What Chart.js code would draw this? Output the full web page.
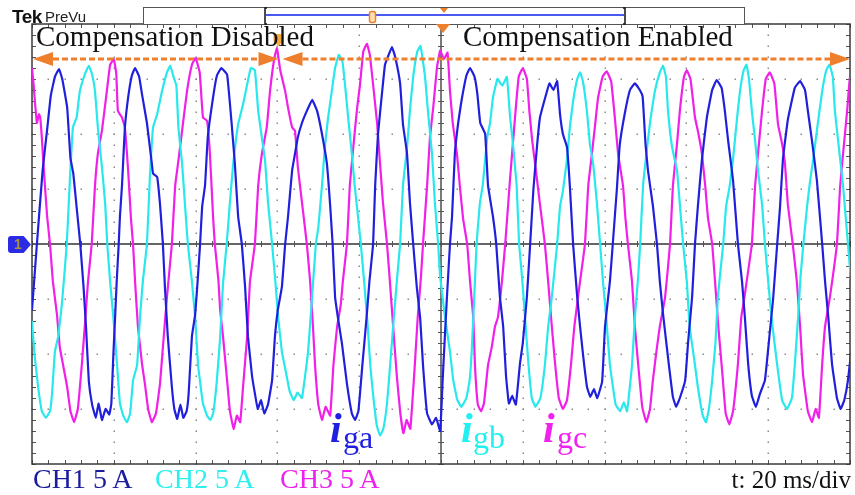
<!DOCTYPE html>
<html>
<head>
<meta charset="utf-8">
<script src="https://cdn.jsdelivr.net/npm/chart.js@4.4.1/dist/chart.umd.min.js"></script>
<style>
  html, body { margin: 0; padding: 0; background: #fff; }
  #wrap { position: relative; width: 855px; height: 495px; overflow: hidden; }
  canvas { position: absolute; left: 0; top: 0; }
  .txt { position: absolute; white-space: nowrap; line-height: 1; font-family: 'Liberation Serif', 'Times New Roman', serif; }
  .sans { font-family: 'Liberation Sans', Arial, sans-serif; }
  .ii { font-style: italic; font-weight: bold; font-size: 42px; }
  .sub { font-size: 32px; }
  #ch1mark { position: absolute; left: 8px; top: 236px; width: 23px; height: 17px; background: #2b2be6;
    clip-path: polygon(0 0, 68% 0, 100% 50%, 68% 100%, 0 100%); border-radius: 3px 0 0 3px;
    color: #a8923a; font: bold 14px 'Liberation Sans', Arial, sans-serif; line-height: 17px; text-indent: 6px; }
</style>
</head>
<body>
<div id="wrap">
  <canvas id="scope" width="855" height="495"></canvas>
  <div class="txt sans" style="left:12px; top:7px; font-size:19px; font-weight:bold; letter-spacing:-0.5px; color:#111;">Tek</div>
  <div class="txt sans" style="left:45px; top:9px; font-size:15px; color:#222;">PreVu</div>
  <div class="txt" style="left:36px; top:22px; font-size:29px; color:#111;">Compensation Disabled</div>
  <div class="txt" style="left:463px; top:22px; font-size:29px; color:#111;">Compensation Enabled</div>
  <div class="txt ii" style="left:330px; top:407px; color:#1f1fe0;">i</div>
  <div class="txt sub" style="left:343px; top:421px; color:#1f1fe0;">ga</div>
  <div class="txt ii" style="left:461px; top:407px; color:#22f0f0;">i</div>
  <div class="txt sub" style="left:473px; top:421px; color:#22f0f0;">gb</div>
  <div class="txt ii" style="left:543px; top:407px; color:#f022f0;">i</div>
  <div class="txt sub" style="left:557px; top:421px; color:#f022f0;">gc</div>
  <div class="txt" style="left:33px; top:465px; font-size:28px; color:#1b1b9e;">CH1 5 A</div>
  <div class="txt" style="left:155px; top:465px; font-size:28px; color:#2eefef;">CH2 5 A</div>
  <div class="txt" style="left:280px; top:465px; font-size:28px; color:#ee22ee;">CH3 5 A</div>
  <div class="txt" style="right:4px; top:467px; font-size:25px; color:#111;">t: 20 ms/div</div>
  <div id="ch1mark">1</div>
</div>
<script>
// time in ms, current in A (20 ms/div, 5 A/div)
const timeRange = [0, 200];
const ampRange = [-20, 20];
const msPerDiv = 20;
const ampPerDiv = 5;
const switchMs = 61; // compensation switched on

// [t, i] pairs per phase
const iga = [
  [0,-6],[1.2,0],[2.6,6.7],[3.7,10.4],[4.6,13.5],[5.6,15.2],[6.6,15.9],[7.4,15],[8.6,12.4],[9.4,7.8],[10.1,6.4],[11,3],[11.8,0],
  [12.6,-3.9],[13.2,-7.5],[13.9,-12.5],[14.7,-14.6],[15.6,-15.8],[16.3,-14.5],[17.1,-16],[18,-15],[18.9,-15.5],[19.4,-14.5],[19.9,-10],[20.3,-6.8],[20.7,-3.5],[21.2,0],
  [21.5,2.5],[22,5.3],[22.7,10.5],[23.5,13.3],[24.4,15.3],[25.2,16],[26.2,15.2],[26.9,13.6],[28.1,11],[29.3,7.3],[29.6,6.4],[30.6,6.1],[31.3,3.6],[32,0],
  [32.5,-3.9],[33.2,-8.4],[34.2,-13],[34.8,-15],[35.5,-15.9],[36.3,-14.6],[37,-15.8],[37.8,-15.2],[38.3,-13.6],[39.1,-8.4],[39.9,-6.4],[40.6,-2.8],[41.1,0],
  [41.6,3.4],[42.3,5.3],[43,9.8],[44.3,13.4],[45.2,15.3],[46.3,16],[47.7,15.4],[48.8,11],[49.6,7.3],[50.4,2.5],[51.3,0],
  [52.1,-3.9],[52.8,-8.4],[53.8,-12],[54.5,-13.6],[55.2,-15],[56,-14.2],[56.8,-15.4],[57.7,-14.6],[58.7,-12.4],[59.4,-8.4],[60.1,-6],[61.1,-3.9],[61.9,0],
  [62.6,2.5],[63.6,6.7],[64.3,8.2],[65,9.7],[66,11],[67.2,12.1],[68.5,13.1],[69.7,12.1],[70.9,10],[72.1,7.3],[72.9,3.5],[73.5,0],
  [74.1,-4.8],[74.8,-6.7],[75.8,-9.1],[77,-12.7],[78.2,-15.4],[79,-16],[79.8,-15.2],[80.8,-10.9],[81.8,-6.7],[82.5,-3.4],[83.4,0],
  [83.9,5.3],[84.6,10],[85.6,13.8],[86.3,16.3],[87,17],[88,17.9],[88.8,17],[90,14.6],[90.7,10.9],[91.7,8.2],[92.4,3.8],[93.2,0],
  [94.1,-4],[94.9,-6.7],[95.6,-11],[96.6,-15.4],[97.8,-16.4],[98.8,-15.8],[99.8,-17],[100.4,-12.4],[101,-8],[101.5,-4.5],[102.2,0],
  [102.7,2.5],[103.4,8.3],[104.2,11],[105,13],[106.2,15.3],[107.1,16],[108.2,15.2],[108.9,13.6],[109.6,11],[110.8,10],[111.5,5.3],[112.7,2.5],[113.5,0],
  [114.4,-4.8],[115.2,-7.5],[115.9,-12],[116.6,-14.5],[117.4,-13.8],[118.3,-14.6],[119.3,-10.9],[120,-9],[121,-4.8],[121.8,0],
  [122.6,5],[123.5,9],[124.2,11.5],[125.4,13.2],[126.5,14.6],[127.5,14],[128.4,14.8],[129.1,11.8],[129.8,10],[130.8,8.8],[131.5,5.3],[132.3,0],
  [133.3,-4.8],[134,-7.5],[134.8,-10.3],[135.7,-13],[136.5,-13.9],[137.4,-13.2],[138.2,-14],[139.4,-12.5],[140.1,-7.5],[141.3,-3.4],[142,0],
  [143,5],[143.7,9],[144.9,11.8],[146.2,14],[147.4,14.6],[148.6,14],[149.3,13.4],[150,9.1],[150.6,6.7],[151.8,3.5],[152.8,0],
  [153.5,-3.4],[154.3,-6.4],[155.5,-10.3],[156.7,-13.9],[157.5,-14.8],[158.4,-14],[159.7,-12.4],[160.4,-9],[161.4,-4.8],[162.1,0],
  [162.8,3.4],[163.8,7.7],[165,11.5],[166.3,14],[167.4,14.9],[168.6,14.2],[169.4,12.1],[170.2,9.4],[171.4,5.8],[172.6,0],
  [173.6,-3.4],[174.3,-6.7],[175.1,-10.9],[176,-13.8],[177,-14.8],[178,-13.6],[179.2,-12.4],[180.4,-8],[181.2,-5],[182.2,0],
  [182.9,3.4],[183.6,7.7],[184.8,11.3],[186.5,14.2],[187.8,14.8],[189,14],[189.7,12.1],[190.7,9.4],[191.9,5.8],[193.2,0],
  [193.9,-3.4],[194.7,-6.7],[195.6,-10.9],[196.8,-14],[197.7,-15],[198.6,-14.2],[199.5,-12.4],[200.7,-8.4]
];

const igb = [
  [0,-7],[0.6,-10],[1.5,-13],[2.4,-15.2],[3.4,-15.8],[4.4,-15.2],[4.9,-13.6],[5.6,-9.8],[6.4,-8.4],[7.3,-5.5],[8.5,0],
  [9.3,6.1],[10,10.6],[10.9,11.5],[11.7,13.9],[13,15.5],[13.9,16.2],[14.7,15.4],[15.4,13.9],[16.1,10.6],[17.1,7],[17.9,3.6],[18.4,0],
  [19.1,-3.4],[19.9,-6.7],[20.8,-11],[21.5,-14.5],[22.3,-15.6],[23.2,-16.2],[24,-15.4],[24.7,-12.4],[25.7,-11],[26.4,-6.7],[27.1,-3.4],[28.1,0],
  [28.8,5.9],[29.6,10.6],[30.6,11.8],[31.8,13.9],[33,15.6],[33.8,16.2],[34.6,15.2],[35.3,14.4],[35.8,10.6],[36.7,7.3],[37.4,3.6],[38.1,0],
  [39.1,-3.4],[39.9,-6.7],[40.6,-11],[41.8,-14.5],[42.8,-15.6],[43.6,-16],[44.3,-15.4],[45.2,-12.4],[46,-8.5],[46.7,-3.6],[47.6,0],
  [48.4,3.8],[49.2,7.3],[50.4,10.9],[51.6,12.7],[52.6,14.5],[53.5,16],[54.5,15.8],[55.3,12.1],[56.2,9.7],[57,7.5],[57.7,3.8],[58.7,0],
  [59.5,-3.4],[60.2,-6.7],[61.1,-9.8],[61.9,-11.3],[63,-13.4],[64,-14.2],[64.9,-13.5],[66,-14],[67.5,-9.8],[68.4,-5.2],[69.4,0],
  [70,1.5],[70.9,5.3],[71.6,8.8],[72.4,11.5],[73.3,13.9],[74.1,16],[75,17.2],[75.9,16.6],[76.5,14.6],[77.3,11.5],[78.2,8.2],[78.9,5.3],[79.7,2.5],[80.4,0],
  [81.2,-3.4],[82.1,-7.5],[82.7,-11],[83.4,-13.7],[84.3,-16.5],[85.1,-17.4],[85.9,-16.8],[86.8,-14.5],[87.5,-11.3],[88.3,-7.5],[89.2,-3.4],[90,0],
  [90.7,5.3],[91.7,8.8],[92.4,12.1],[93.2,15.2],[94.2,17.5],[95,18],[96.1,15.2],[96.8,12.1],[97.8,8.2],[98.5,3.8],[99.3,0],
  [99.8,-3],[101,-6.7],[102.2,-9.8],[103,-12.4],[104,-14.2],[105,-14.8],[106.2,-14],[107,-12.4],[107.5,-9.8],[108.3,-3.4],[108.7,0],
  [109.5,3.7],[110.2,5.3],[111.3,9.7],[112,11],[112.7,13.3],[113.8,15],[115,14.4],[116.1,15.2],[116.9,11.5],[117.6,9.1],[118.5,5.3],[119.1,0],
  [119.9,-3.4],[120.7,-7.5],[121.4,-11],[122.2,-14],[123.1,-14.8],[124.3,-14],[125.4,-11],[126.2,-7.5],[127.1,-4.8],[128.4,0],
  [129.1,3.4],[129.8,4.8],[130.8,7.7],[131.5,10.6],[132.3,13],[133.3,15],[134,15.6],[134.7,14.8],[135.7,12],[136.4,9.1],[137.2,7.3],[138.1,3.8],[138.9,0],
  [139.6,-3.4],[140.4,-6.7],[141.3,-11],[142.7,-14.6],[143.8,-15.2],[144.7,-14.4],[145.5,-15.2],[146.7,-11],[147.4,-6.7],[148.2,-3],[148.7,0],
  [149.4,5.3],[150.4,8.8],[151.1,11],[152.3,13.9],[153.5,15.6],[154.3,16.2],[155,15.2],[155.5,12.1],[156.5,8.8],[157.7,6.7],[158.4,3.6],[159.2,0],
  [160.1,-3.4],[160.8,-7.5],[162.1,-11],[162.8,-13],[164,-15.6],[164.8,-16.2],[165.5,-15],[166.3,-12.4],[167.1,-9],[167.7,-4.8],[169,0],
  [169.7,3.4],[170.6,5.3],[171.4,7.7],[172.4,11.5],[173.1,13.9],[174,15.8],[174.7,16.3],[175.3,15],[176,12.1],[176.8,9.4],[177.5,6.7],[178.5,3.6],[179.2,0],
  [180,-3.4],[180.9,-7],[182.2,-11],[183.4,-14.2],[184.6,-15],[185.8,-14],[186.5,-11],[187.3,-6.7],[187.9,-3],[188.6,0],
  [189.5,3.4],[190.2,5.6],[191,7.7],[192,10.6],[193.2,13.9],[194.2,15.8],[195,16.3],[195.8,15.2],[196.3,12.1],[197.6,7.7],[198.3,5.3],[199.5,0],[200.7,-5.4]
];

const igc = [
  [0,16],[0.4,14.5],[0.7,13],[1.2,11],[1.7,11.8],[2,11.5],[2.4,9.7],[2.9,6.7],[3.7,2.5],[4.4,0],
  [5.1,-3.4],[6.1,-6.4],[6.8,-9.4],[7.6,-11],[8.6,-13],[9.4,-15.2],[10.3,-16.2],[11.2,-15],[12.2,-10.9],[12.9,-7.5],[13.7,-3.4],[14.6,0],
  [15.4,5.3],[16.1,8.2],[17.1,10.3],[18.3,13.9],[19.1,16.3],[20,16.8],[20.6,15.5],[21,12.1],[22,11.5],[22.7,10.6],[23.5,6.7],[24.2,2.3],[24.7,0],
  [25.2,-3.4],[25.9,-7.5],[26.9,-10.9],[27.6,-12.7],[28.4,-15],[29.3,-16.2],[30.3,-15.4],[31.3,-12.7],[32,-9.4],[33,-4.8],[34.2,0],
  [35,5.3],[35.7,7.3],[36.7,10.3],[37.9,13.9],[39.1,16.3],[40,16.9],[41,15.6],[41.8,11.5],[42.8,11.2],[43.5,8.2],[44.3,2.3],[44.7,0],
  [45.6,-3.4],[46,-6],[46.7,-8.4],[47.7,-12.4],[48.4,-15.2],[49.3,-16.8],[50.1,-15.6],[50.9,-16.2],[51.6,-13],[52.6,-8.4],[53.3,-3.4],[54.5,0],
  [55.3,5.3],[56.2,8.2],[57.4,10.6],[58.2,13.9],[59.2,16.8],[59.9,17.8],[60.7,15.8],[61.9,13.9],[62.6,12.4],[63.6,10.6],[64.3,10.3],[65,7],[66,3.8],[67.2,0],
  [68,-3.4],[68.7,-7.5],[69.2,-11],[70,-14.6],[70.9,-16],[71.8,-14.8],[72.9,-15.6],[73.7,-11],[74.6,-7.5],[75.5,-5.5],[76,-3.4],[77,0],
  [77.7,5.3],[78.4,8.2],[79.5,12.4],[80.2,14.5],[81,17.5],[81.9,18.2],[82.6,17.2],[83.4,14.5],[84.4,10.9],[85.1,7.3],[85.8,3.8],[86.8,0],
  [87.5,-3.4],[88.3,-7.5],[89.2,-12],[90,-15.2],[90.8,-17.2],[91.6,-16],[92.5,-16.8],[93.6,-11],[94.3,-6.7],[95.1,-3],[95.6,0],
  [96.6,5.3],[97.3,9.7],[98.1,12.4],[99,16],[99.8,17.6],[100.7,16.8],[101.6,17.4],[102.2,13.9],[102.9,10.9],[103.9,8.2],[104.6,5.3],[105.4,2.3],[106.4,0],
  [107.1,-3.4],[107.9,-6.7],[108.3,-11],[109,-14.6],[109.8,-15.2],[110.5,-14.5],[111.5,-11],[112.4,-9.4],[113.2,-7.5],[113.9,-6.7],[114.9,-3.4],[115.7,0],
  [116.9,6],[117.7,9.7],[118.3,12.4],[119,15.2],[120,16],[121,15],[121.6,12.1],[122.3,9.4],[123.2,6.7],[124.2,3.6],[125.4,0],
  [126.2,-3.4],[127.1,-7.5],[127.9,-10.9],[128.8,-14],[129.8,-15],[130.8,-14.2],[131.8,-10.9],[132.6,-7.5],[134,-3.4],[135.2,0],
  [136,5.3],[136.9,8.2],[137.7,10.9],[138.4,13.3],[139.5,15.2],[140.5,15.7],[141.6,14.8],[142.5,11.5],[143.3,8.2],[144.5,5.3],[145.1,2.3],[145.7,0],
  [146.7,-3.4],[147.4,-7.5],[148.2,-10.9],[149.2,-14.8],[150.2,-16.2],[151.1,-15],[151.8,-12.4],[152.8,-9.4],[153.5,-7.5],[154.8,-4.8],[156,0],
  [156.7,5.3],[157.7,9.1],[158.4,12.1],[159.4,15.2],[160.1,15.8],[161,15],[162.1,11.5],[162.8,10.3],[163.8,8.2],[164.6,5.3],[165.3,2.3],[166.3,0],
  [167,-3.4],[167.8,-7.5],[168.8,-11.8],[169.6,-15.4],[170.5,-16.4],[171.4,-15.2],[172.6,-10.9],[173.4,-6.7],[174.2,-4.8],[176,0],
  [176.8,5.3],[177.5,8.2],[178.5,12.1],[179.4,15],[180.4,15.6],[181.5,14.6],[182.4,10.9],[183.4,9.1],[184.1,7.3],[184.8,3.6],[186,0],
  [187,-3.4],[187.8,-7.5],[188.5,-11.8],[189.7,-15.2],[190.7,-16.2],[191.6,-15],[192.4,-15.8],[193.2,-10.9],[193.9,-7.5],[195.1,-4.8],[196.8,0],
  [197.6,5.3],[198.3,8.2],[199.3,12.1],[200,15.2],[200.7,14.5]
];

const toPoints = (pairs) => pairs.map(([t, i]) => ({ x: t, y: i }));

const ORANGE = '#ee7f2d';

function arrowHead(ctx, tipX, y, dir) {
  ctx.beginPath();
  ctx.moveTo(tipX, y);
  ctx.lineTo(tipX - dir * 20, y - 7);
  ctx.lineTo(tipX - dir * 20, y + 7);
  ctx.closePath();
  ctx.fill();
}

// scope screen: graticule, centre cross, markers, record bar, arrows
const scopeScreen = {
  id: 'scopeScreen',
  beforeDatasetsDraw(chart) {
    const { ctx, chartArea: a, scales: { x, y } } = chart;
    ctx.save();
    // dotted graticule
    ctx.fillStyle = '#8c8c8c';
    for (let t = timeRange[0] + msPerDiv; t < timeRange[1]; t += msPerDiv) {
      if (t === 100) continue;
      for (let v = ampRange[0]; v <= ampRange[1]; v += 1) {
        ctx.fillRect(Math.round(x.getPixelForValue(t)) - 0.5, Math.round(y.getPixelForValue(v)) - 0.5, 1.5, 1.5);
      }
    }
    for (let v = ampRange[0] + ampPerDiv; v < ampRange[1]; v += ampPerDiv) {
      if (v === 0) continue;
      for (let t = timeRange[0]; t <= timeRange[1]; t += 4) {
        ctx.fillRect(Math.round(x.getPixelForValue(t)) - 0.5, Math.round(y.getPixelForValue(v)) - 0.5, 1.5, 1.5);
      }
    }
    // centre cross
    const x0 = x.getPixelForValue(100), y0 = y.getPixelForValue(0);
    ctx.strokeStyle = '#333';
    ctx.lineWidth = 1.3;
    ctx.beginPath();
    ctx.moveTo(a.left, y0); ctx.lineTo(a.right, y0);
    ctx.moveTo(x0, a.top); ctx.lineTo(x0, a.bottom);
    ctx.stroke();
    ctx.lineWidth = 1;
    ctx.strokeStyle = '#555';
    ctx.beginPath();
    for (let t = timeRange[0]; t <= timeRange[1]; t += 4) {
      const px = Math.round(x.getPixelForValue(t)) + 0.5;
      ctx.moveTo(px, y0 - 3); ctx.lineTo(px, y0 + 3);
      ctx.moveTo(px, a.top); ctx.lineTo(px, a.top + 4);
      ctx.moveTo(px, a.bottom - 4); ctx.lineTo(px, a.bottom);
    }
    for (let v = ampRange[0]; v <= ampRange[1]; v += 1) {
      const py = Math.round(y.getPixelForValue(v)) + 0.5;
      ctx.moveTo(x0 - 3, py); ctx.lineTo(x0 + 3, py);
      ctx.moveTo(a.left, py); ctx.lineTo(a.left + 4, py);
      ctx.moveTo(a.right - 4, py); ctx.lineTo(a.right, py);
    }
    ctx.stroke();
    // frame
    ctx.strokeStyle = '#3a3a3a';
    ctx.lineWidth = 1.5;
    ctx.strokeRect(a.left, a.top, a.right - a.left, a.bottom - a.top);
    ctx.restore();
  },
  afterDatasetsDraw(chart) {
    const { ctx, chartArea: a, scales: { x } } = chart;
    ctx.save();
    // record view bar
    ctx.fillStyle = '#fff';
    ctx.fillRect(143.5, 7.5, 601, 17);
    ctx.strokeStyle = '#555';
    ctx.lineWidth = 1;
    ctx.strokeRect(143.5, 7.5, 601, 17);
    ctx.strokeStyle = '#4a5af0';
    ctx.lineWidth = 2;
    ctx.beginPath(); ctx.moveTo(266, 15); ctx.lineTo(624, 15); ctx.stroke();
    ctx.strokeStyle = '#111';
    ctx.lineWidth = 1.5;
    ctx.beginPath();
    ctx.moveTo(267, 8); ctx.lineTo(265, 8); ctx.lineTo(265, 24); ctx.lineTo(267, 24);
    ctx.moveTo(623, 8); ctx.lineTo(625, 8); ctx.lineTo(625, 24); ctx.lineTo(623, 24);
    ctx.stroke();
    ctx.fillStyle = '#ffe2b0';
    ctx.strokeStyle = ORANGE;
    ctx.lineWidth = 1.5;
    ctx.beginPath(); ctx.roundRect(369.5, 11.5, 6, 11, 2); ctx.fill(); ctx.stroke();
    ctx.fillStyle = ORANGE;
    ctx.beginPath(); ctx.moveTo(440, 8); ctx.lineTo(448, 8); ctx.lineTo(444, 13); ctx.closePath(); ctx.fill();
    // trigger marker
    const xt = x.getPixelForValue(100) + 2;
    ctx.beginPath(); ctx.moveTo(xt - 7, a.top); ctx.lineTo(xt + 7, a.top); ctx.lineTo(xt, a.top + 9); ctx.closePath(); ctx.fill();
    // switching cursor marker
    const xs = x.getPixelForValue(switchMs);
    ctx.fillStyle = '#f6a93b';
    ctx.beginPath();
    ctx.moveTo(xs - 8, a.top + 10); ctx.lineTo(xs + 2, a.top + 10); ctx.lineTo(xs + 2, a.top + 17);
    ctx.lineTo(xs - 3, a.top + 22); ctx.lineTo(xs - 8, a.top + 17); ctx.closePath(); ctx.fill();
    // region arrows
    const ya = a.top + 35;
    const xl = x.getPixelForValue(timeRange[0]) + 1;
    const xr = x.getPixelForValue(timeRange[1]);
    ctx.strokeStyle = ORANGE;
    ctx.fillStyle = ORANGE;
    ctx.lineWidth = 3;
    ctx.setLineDash([6, 3]);
    ctx.beginPath();
    ctx.moveTo(xl + 20, ya); ctx.lineTo(xs - 23, ya);
    ctx.moveTo(xs + 21, ya); ctx.lineTo(xr - 20, ya);
    ctx.stroke();
    ctx.setLineDash([]);
    arrowHead(ctx, xl, ya, -1);
    arrowHead(ctx, xs - 3, ya, 1);
    arrowHead(ctx, xs + 1, ya, -1);
    arrowHead(ctx, xr, ya, 1);
    ctx.restore();
  }
};

const lineStyle = { borderWidth: 2.2, pointRadius: 0, tension: 0.1, fill: false };

new Chart(document.getElementById('scope'), {
  type: 'line',
  data: {
    datasets: [
      { label: 'iga', data: toPoints(iga), borderColor: '#2020dc', ...lineStyle },
      { label: 'igb', data: toPoints(igb), borderColor: '#28e8ec', ...lineStyle },
      { label: 'igc', data: toPoints(igc), borderColor: '#f020e8', ...lineStyle }
    ]
  },
  options: {
    responsive: false,
    animation: false,
    devicePixelRatio: 1,
    layout: { padding: { left: 32, right: 5, top: 24, bottom: 31 } },
    plugins: { legend: { display: false }, tooltip: { enabled: false } },
    scales: {
      x: { type: 'linear', min: timeRange[0], max: timeRange[1], display: false },
      y: { type: 'linear', min: ampRange[0], max: ampRange[1], display: false }
    }
  },
  plugins: [scopeScreen]
});
</script>
</body>
</html>
